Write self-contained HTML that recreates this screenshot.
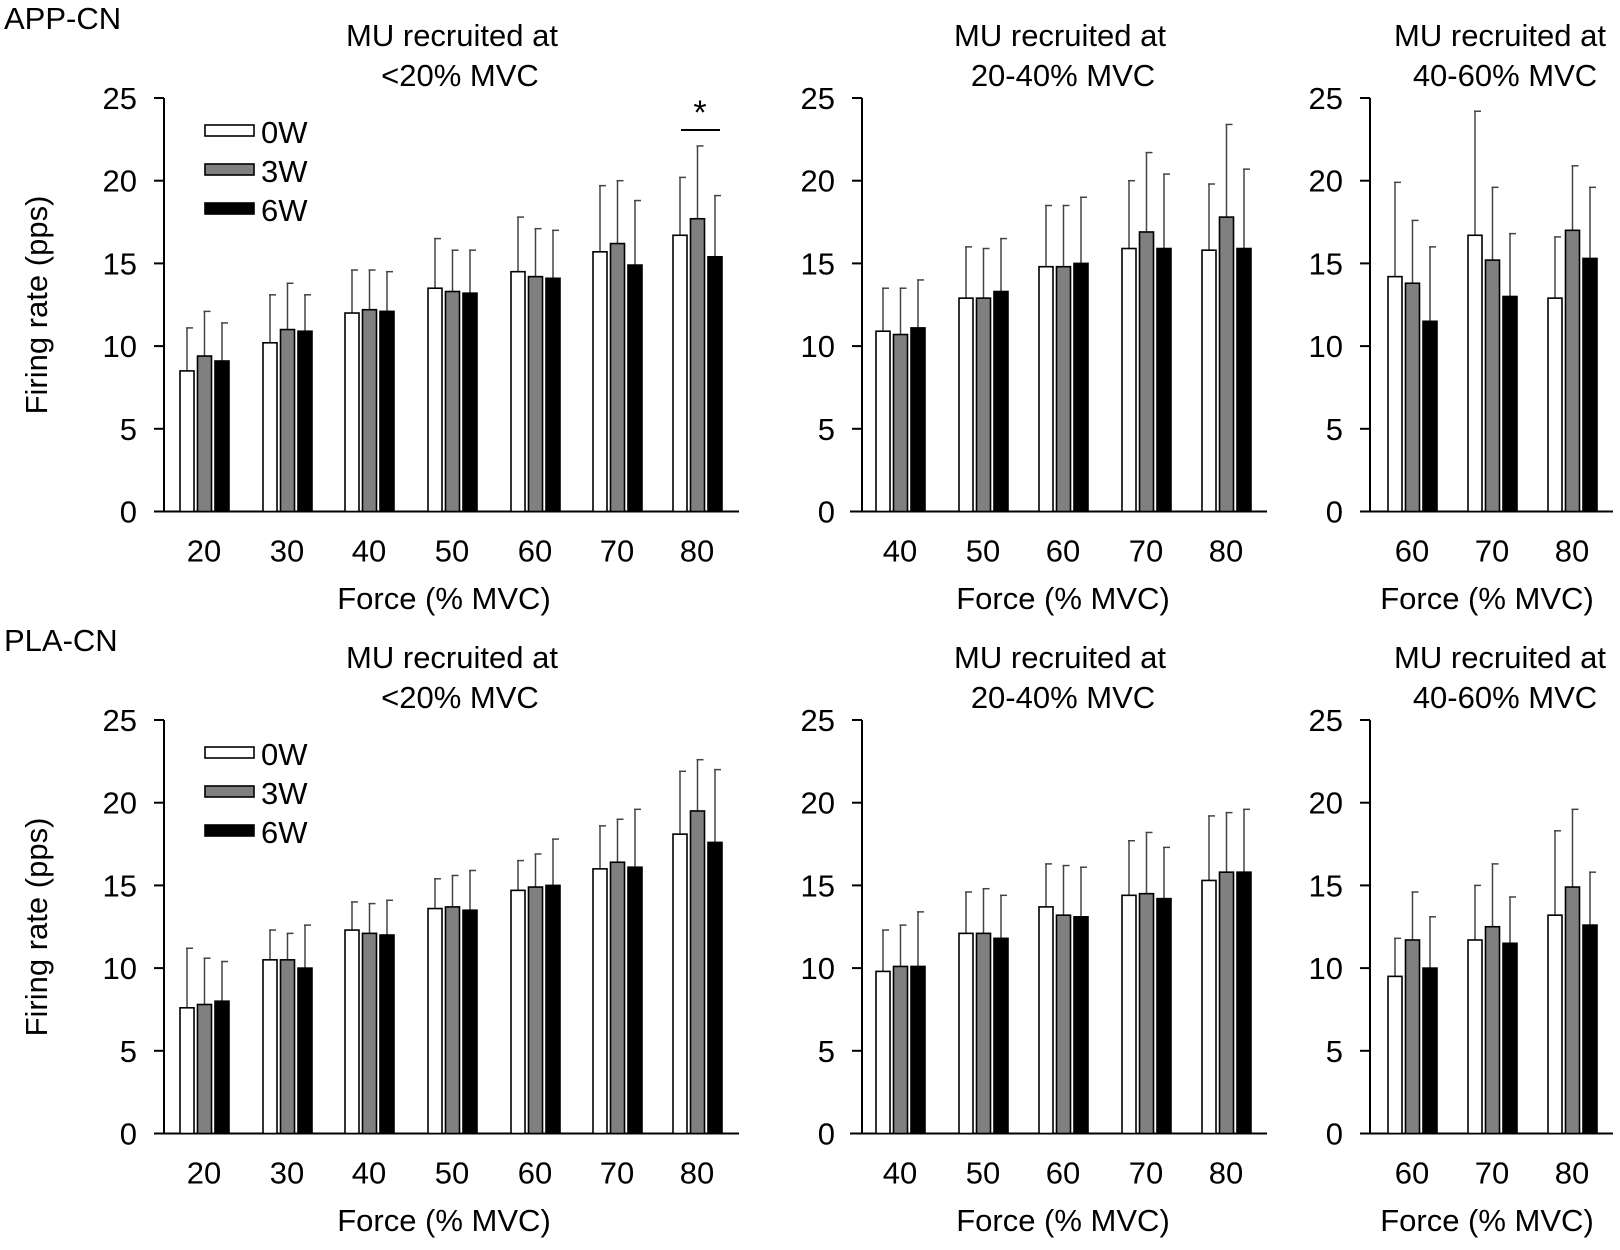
<!DOCTYPE html>
<html><head><meta charset="utf-8"><style>
html,body{margin:0;padding:0;background:#fff;}
svg{display:block;}
text{font-family:"Liberation Sans",Arial,sans-serif;fill:#000;}
</style></head><body>
<svg id="s" width="1620" height="1250" viewBox="0 0 1620 1250" xmlns="http://www.w3.org/2000/svg"></svg>
<script>
const s=document.getElementById('s');let h='';
const fills=['#fff','#808080','#000'];
const FS=31;
function panel(ax,x0,x1,top,bot,cats,data){
  const k=(bot-top)/25;
  h+=`<line x1="${ax}" y1="${top}" x2="${ax}" y2="${bot}" stroke="#000" stroke-width="2"/>`;
  h+=`<line x1="${x0}" y1="${bot}" x2="${x1}" y2="${bot}" stroke="#000" stroke-width="2"/>`;
  for(let v=0;v<=25;v+=5){const y=bot-v*k;
    h+=`<line x1="${ax-10}" y1="${y}" x2="${ax}" y2="${y}" stroke="#000" stroke-width="2"/>`;
    h+=`<text x="${ax-27}" y="${y+11}" font-size="${FS}" text-anchor="end">${v}</text>`;}
  cats.forEach((c,i)=>{
    h+=`<text x="${c[0]}" y="${bot+50}" font-size="${FS}" text-anchor="middle">${c[1]}</text>`;
    data[i].forEach((d,j)=>{const cx=c[0]-17+j*17.5;const y=bot-d[0]*k,ye=bot-d[1]*k;
      h+=`<line x1="${cx}" y1="${ye}" x2="${cx}" y2="${y}" stroke="#444" stroke-width="1.5"/>`;
      h+=`<line x1="${cx-1}" y1="${ye}" x2="${cx+6}" y2="${ye}" stroke="#444" stroke-width="1.5"/>`;
      h+=`<rect x="${cx-7}" y="${y}" width="14" height="${bot-y}" fill="${fills[j]}" stroke="#000" stroke-width="1.6"/>`;});
  });
}
function title(cx,y,l2,cx2){h+=`<text x="${cx}" y="${y}" font-size="${FS}" text-anchor="middle">MU recruited at</text><text x="${cx2}" y="${y+40}" font-size="${FS}" text-anchor="middle">${l2}</text>`;}
const c1=[[204,20],[287,30],[369,40],[452,50],[535,60],[617,70],[697,80]];
const c2=[[900,40],[983,50],[1063,60],[1146,70],[1226,80]];
const c3=[[1412,60],[1492,70],[1572,80]];
const D={
a1:[[[8.5,11.1],[9.4,12.1],[9.1,11.4]],[[10.2,13.1],[11.0,13.8],[10.9,13.1]],[[12.0,14.6],[12.2,14.6],[12.1,14.5]],[[13.5,16.5],[13.3,15.8],[13.2,15.8]],[[14.5,17.8],[14.2,17.1],[14.1,17.0]],[[15.7,19.7],[16.2,20.0],[14.9,18.8]],[[16.7,20.2],[17.7,22.1],[15.4,19.1]]],
a2:[[[10.9,13.5],[10.7,13.5],[11.1,14.0]],[[12.9,16.0],[12.9,15.9],[13.3,16.5]],[[14.8,18.5],[14.8,18.5],[15.0,19.0]],[[15.9,20.0],[16.9,21.7],[15.9,20.4]],[[15.8,19.8],[17.8,23.4],[15.9,20.7]]],
a3:[[[14.2,19.9],[13.8,17.6],[11.5,16.0]],[[16.7,24.2],[15.2,19.6],[13.0,16.8]],[[12.9,16.6],[17.0,20.9],[15.3,19.6]]],
p1:[[[7.6,11.2],[7.8,10.6],[8.0,10.4]],[[10.5,12.3],[10.5,12.1],[10.0,12.6]],[[12.3,14.0],[12.1,13.9],[12.0,14.1]],[[13.6,15.4],[13.7,15.6],[13.5,15.9]],[[14.7,16.5],[14.9,16.9],[15.0,17.8]],[[16.0,18.6],[16.4,19.0],[16.1,19.6]],[[18.1,21.9],[19.5,22.6],[17.6,22.0]]],
p2:[[[9.8,12.3],[10.1,12.6],[10.1,13.4]],[[12.1,14.6],[12.1,14.8],[11.8,14.4]],[[13.7,16.3],[13.2,16.2],[13.1,16.1]],[[14.4,17.7],[14.5,18.2],[14.2,17.3]],[[15.3,19.2],[15.8,19.4],[15.8,19.6]]],
p3:[[[9.5,11.8],[11.7,14.6],[10.0,13.1]],[[11.7,15.0],[12.5,16.3],[11.5,14.3]],[[13.2,18.3],[14.9,19.6],[12.6,15.8]]]};
[[0,'a','APP-CN'],[622,'p','PLA-CN']].forEach(([o,p,lab])=>{
  const top=98+o,bot=511.5+o;
  h+=`<text x="4" y="${29+o}" font-size="${FS}">${lab}</text>`;
  panel(164,155,739,top,bot,c1,D[p+'1']);
  panel(862,850,1267,top,bot,c2,D[p+'2']);
  panel(1370,1363,1613,top,bot,c3,D[p+'3']);
  title(452,46+o,'&lt;20% MVC',460);title(1060,46+o,'20-40% MVC',1063);title(1500,46+o,'40-60% MVC',1505);
  [[444],[1063],[1487]].forEach(([x])=>h+=`<text x="${x}" y="${609+o}" font-size="${FS}" text-anchor="middle">Force (% MVC)</text>`);
  h+=`<text transform="translate(47,${305+o}) rotate(-90)" font-size="${FS}" text-anchor="middle">Firing rate (pps)</text>`;
  ['0W','3W','6W'].forEach((t,i)=>{const y=125+i*39+o;
    h+=`<rect x="205" y="${y}" width="49" height="11" fill="${fills[i]}" stroke="#000" stroke-width="1.6"/>`;
    h+=`<text x="261" y="${y+18}" font-size="${FS}">${t}</text>`;});
});
h+=`<line x1="681" y1="130" x2="720" y2="130" stroke="#000" stroke-width="2"/><text x="700" y="124" font-size="34" text-anchor="middle">*</text>`;
s.innerHTML=h;
</script>
</body></html>
